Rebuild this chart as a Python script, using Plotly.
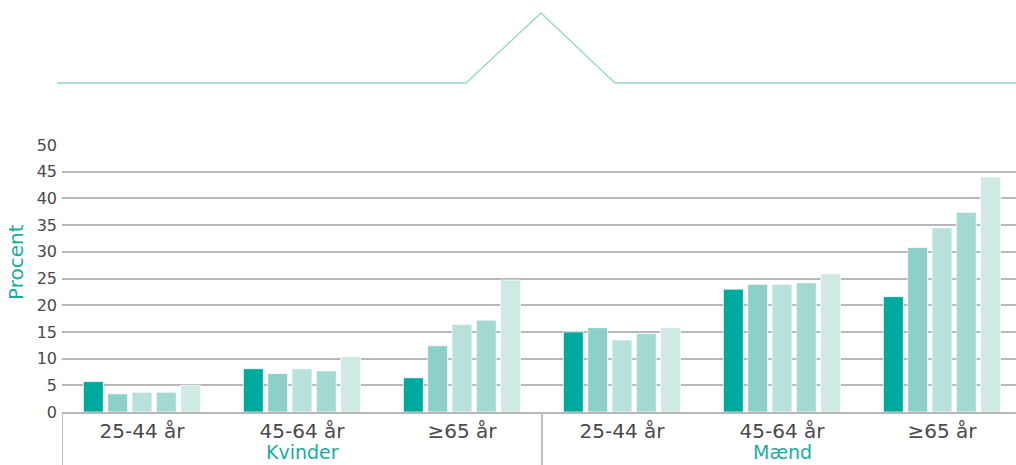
import plotly.graph_objects as go

# Age bands per sex group, and the two sex groups
age_labels = ["25-44 år", "45-64 år", "≥65 år", "25-44 år", "45-64 år", "≥65 år"]
sex_groups = ["Kvinder", "Mænd"]

# Five series of percentages, one value per age band (Kvinder first, then Mænd)
serie_1 = [5.7, 8.1, 6.4, 15.0, 23.0, 21.6]
serie_2 = [3.4, 7.2, 12.4, 15.8, 23.9, 30.8]
serie_3 = [3.7, 8.1, 16.4, 13.5, 23.9, 34.5]
serie_4 = [3.7, 7.7, 17.2, 14.7, 24.2, 37.4]
serie_5 = [5.0, 10.4, 24.7, 15.8, 25.9, 44.0]

series = [serie_1, serie_2, serie_3, serie_4, serie_5]
colors = ["#00a99d", "#8bd1c7", "#b8e1dc", "#a3d9d3", "#cfe9e5"]

y_ticks = list(range(0, 55, 5))

FONT = "DejaVu Sans"
GRID = "#b7b7ba"
TEXT = "#4a4a4a"
TEAL = "#1aab9f"

W, H = 1016, 465
M_L, M_R, M_T, M_B = 62, 0, 145, 53
plot_w = W - M_L - M_R
plot_h = H - M_T - M_B
cat_px = 160.0  # width of one age band in pixels
x_lo = -0.5
x_hi = x_lo + plot_w / cat_px

x_idx = list(range(len(age_labels)))

fig = go.Figure()
for i, vals in enumerate(series):
    fig.add_trace(go.Bar(
        x=x_idx, y=vals, name=f"Serie {i + 1}",
        marker=dict(color=colors[i], line=dict(color="rgba(255,255,255,0.7)", width=1)),
        showlegend=False, hoverinfo="y",
    ))


def paper_x(px):
    return (px - M_L) / plot_w


def paper_y(py):
    return (H - M_B - py) / plot_h


shapes = []
# Separators between the sex groups below the axis
for xv in [x_lo, x_lo + 3]:
    shapes.append(dict(type="line", xref="x", yref="paper", x0=xv, x1=xv,
                       y0=0, y1=-M_B / plot_h - 0.01,
                       line=dict(color="#bdbdc3", width=2)))

# Decorative rule with a peak above the chart
pts = [(57, 83), (466, 83), (541, 13), (615, 83), (1016, 83)]
path = "M " + " L ".join(f"{paper_x(a):.4f},{paper_y(b):.4f}" for a, b in pts)
shapes.append(dict(type="path", xref="paper", yref="paper", path=path,
                   line=dict(color="#94d6ce", width=1.3)))

annotations = [
    dict(text="Procent", xref="paper", yref="paper", x=paper_x(16),
         y=paper_y(262), textangle=-90, showarrow=False,
         font=dict(family=FONT, size=20, color=TEAL),
         xanchor="center", yanchor="middle"),
]
for j, g in enumerate(sex_groups):
    annotations.append(dict(text=g, xref="x", yref="paper", x=1 + 3 * j,
                            y=paper_y(452), showarrow=False,
                            font=dict(family=FONT, size=19, color=TEAL),
                            xanchor="center", yanchor="middle"))

fig.update_layout(
    width=W, height=H,
    margin=dict(l=M_L, r=M_R, t=M_T, b=M_B, pad=0),
    paper_bgcolor="white", plot_bgcolor="white",
    barmode="group", bargap=0.24, bargroupgap=0.18,
    font=dict(family=FONT, color=TEXT),
    shapes=shapes, annotations=annotations,
    xaxis=dict(
        range=[x_lo, x_hi], tickvals=x_idx, ticktext=age_labels,
        showgrid=False, zeroline=False, ticks="",
        showline=True, linecolor=GRID, linewidth=2,
        tickfont=dict(family=FONT, size=20, color=TEXT),
        fixedrange=True,
    ),
    yaxis=dict(
        range=[0, 50], tickvals=y_ticks, showgrid=True, gridcolor=GRID,
        gridwidth=1.6, zeroline=False, ticks="", showline=False,
        tickfont=dict(family=FONT, size=16, color=TEXT),
        ticklabelstandoff=4, fixedrange=True,
    ),
)

fig.write_html("out.html", config={"displayModeBar": False})
